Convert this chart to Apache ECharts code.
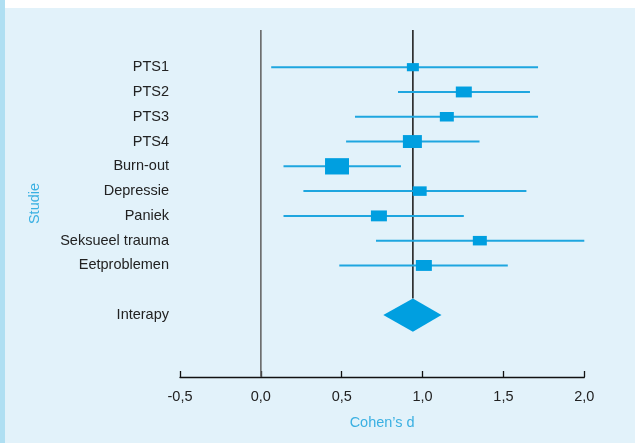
<!DOCTYPE html>
<html>
<head>
<meta charset="utf-8">
<script src="https://cdn.jsdelivr.net/npm/echarts@6/dist/echarts.min.js"></script>
<style>
  html, body { margin: 0; padding: 0; background: #ffffff; }
  #frame { position: relative; width: 635px; height: 443px; overflow: hidden; }
  #strip { position: absolute; left: 0; top: 0; width: 5px; height: 443px; background: #afdff2; }
  #panel { position: absolute; left: 5px; top: 8px; width: 630px; height: 435px; background: #e2f2fa; }
  #chart { position: absolute; left: 0; top: 0; width: 635px; height: 443px; }
</style>
</head>
<body>
<div id="frame">
  <div id="strip"></div>
  <div id="panel"></div>
  <div id="chart"></div>
</div>
<script>
// Studies and their effect sizes (Cohen's d) with 95% confidence intervals
const studies = ['PTS1', 'PTS2', 'PTS3', 'PTS4', 'Burn-out', 'Depressie', 'Paniek', 'Seksueel trauma', 'Eetproblemen'];
const effect  = [0.94, 1.255, 1.15, 0.937, 0.471, 0.982, 0.73, 1.354, 1.008];
const ciLow   = [0.064, 0.848, 0.582, 0.527, 0.14, 0.263, 0.14, 0.712, 0.485];
const ciHigh  = [1.714, 1.664, 1.714, 1.352, 0.866, 1.642, 1.255, 2.0, 1.527];
// Relative study weights (drive the size of each square)
const weights = [12, 16, 14, 19, 24, 14, 16, 14, 16];

// Pooled estimate
const pooledLabel = 'Interapy';
const pooled      = 0.94;
const pooledLow   = 0.757;
const pooledHigh  = 1.117;

// X axis ticks and their Dutch-style labels
const xTicks      = [-0.5, 0, 0.5, 1, 1.5, 2];
const xTickLabels = ['-0,5', '0,0', '0,5', '1,0', '1,5', '2,0'];

// Row layout: spacer on top, studies, a gap, the pooled row, spacers at the bottom
const rows = ['top'].concat(studies, ['gap', pooledLabel, 'pad1', 'pad2']);
const spacerRows = ['top', 'gap', 'pad1', 'pad2'];
const pooledRow = rows.indexOf(pooledLabel);

const BLUE = '#009fe0';
const LINE_BLUE = '#1ea6df';
const LABEL_BLUE = '#3ab0e2';
const FONT = 14.5;

const studyData = studies.map((s, i) => [ciLow[i], ciHigh[i], effect[i], i + 1, weights[i]]);

const chart = echarts.init(document.getElementById('chart'), null, { renderer: 'canvas' });

chart.setOption({
  backgroundColor: 'transparent',
  animation: false,
  textStyle: { fontFamily: 'Liberation Sans, Arial, sans-serif' },
  grid: { left: 180, right: 50.7, top: 30, bottom: 66, containLabel: false },
  xAxis: {
    type: 'value',
    min: xTicks[0],
    max: xTicks[xTicks.length - 1],
    interval: 0.5,
    name: 'Cohen\u2019s d',
    nameLocation: 'middle',
    nameGap: 38,
    nameTextStyle: { color: LABEL_BLUE, fontSize: FONT },
    axisLine: { show: true, lineStyle: { color: '#111', width: 1.3 } },
    axisTick: { show: true, inside: true, length: 6, lineStyle: { color: '#111', width: 1.3 } },
    splitLine: { show: false },
    axisLabel: {
      color: '#222',
      fontSize: FONT,
      margin: 12,
      formatter: v => {
        const k = xTicks.findIndex(t => Math.abs(t - v) < 1e-9);
        return k >= 0 ? xTickLabels[k] : '';
      }
    }
  },
  yAxis: {
    type: 'category',
    data: rows,
    inverse: true,
    name: 'Studie',
    nameLocation: 'middle',
    nameRotate: 90,
    nameGap: 138,
    nameTextStyle: { color: LABEL_BLUE, fontSize: FONT },
    axisLine: { show: false },
    axisTick: { show: false },
    splitLine: { show: false },
    axisLabel: {
      color: '#222',
      fontSize: FONT,
      margin: 11,
      formatter: v => (spacerRows.indexOf(v) >= 0 ? '' : v)
    }
  },
  series: [
    {
      type: 'custom',
      name: 'studies',
      data: studyData,
      encode: { x: [0, 1, 2], y: 3 },
      renderItem: (params, api) => {
        const row = api.value(3);
        const pL = api.coord([api.value(0), row]);
        const pH = api.coord([api.value(1), row]);
        const pE = api.coord([api.value(2), row]);
        const w = api.value(4);
        const h = w * 0.68;
        return {
          type: 'group',
          children: [
            {
              type: 'line',
              shape: { x1: pL[0], y1: pL[1], x2: pH[0], y2: pH[1] },
              style: { stroke: LINE_BLUE, lineWidth: 2 }
            },
            {
              type: 'rect',
              shape: { x: pE[0] - w / 2, y: pE[1] - h / 2, width: w, height: h },
              style: { fill: BLUE }
            }
          ]
        };
      },
      z: 3
    },
    {
      type: 'custom',
      name: 'pooled',
      data: [[pooledLow, pooledHigh, pooled, pooledRow]],
      encode: { x: [0, 1, 2], y: 3 },
      renderItem: (params, api) => {
        const row = api.value(3);
        const pL = api.coord([api.value(0), row]);
        const pH = api.coord([api.value(1), row]);
        const pE = api.coord([api.value(2), row]);
        const p0 = api.coord([0, row]);
        const half = api.size([0, 1])[1] * 0.67;
        const top = params.coordSys.y;
        const bottom = params.coordSys.y + params.coordSys.height;
        return {
          type: 'group',
          children: [
            {
              // line of no effect
              type: 'line',
              shape: { x1: p0[0], y1: top, x2: p0[0], y2: bottom },
              style: { stroke: '#666', lineWidth: 1.6 }
            },
            {
              // reference line at the pooled estimate
              type: 'line',
              shape: { x1: pE[0], y1: top, x2: pE[0], y2: pE[1] - half },
              style: { stroke: '#222', lineWidth: 1.6 }
            },
            {
              type: 'polygon',
              shape: { points: [[pL[0], pE[1]], [pE[0], pE[1] - half], [pH[0], pE[1]], [pE[0], pE[1] + half]] },
              style: { fill: BLUE }
            }
          ]
        };
      },
      z: 2
    }
  ]
});
</script>
</body>
</html>
